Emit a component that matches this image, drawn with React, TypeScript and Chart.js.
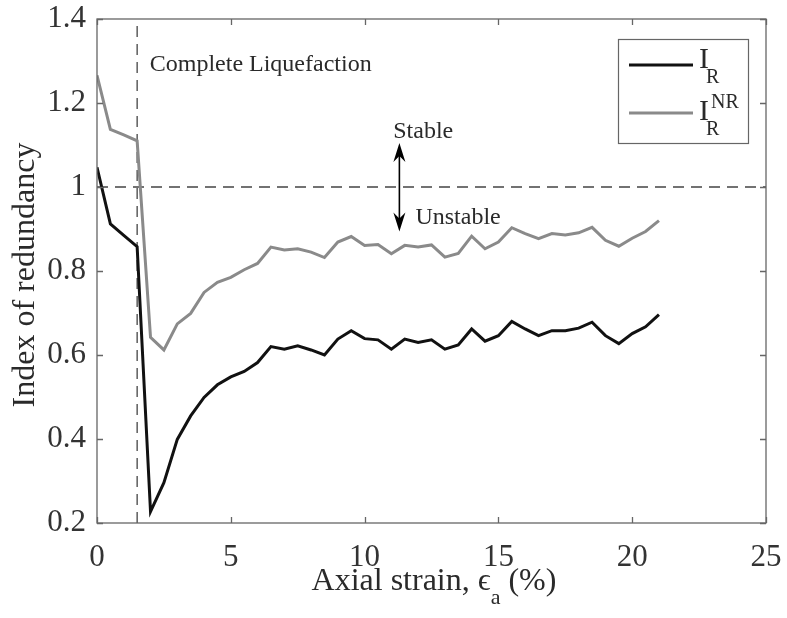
import React, { useEffect, useRef } from 'react';
import { Chart, registerables } from 'chart.js';

Chart.register(...registerables);

// ---- data ----
const strain = [0, 0.5, 1, 1.5, 2, 2.5, 3, 3.5, 4, 4.5, 5, 5.5, 6, 6.5, 7, 7.5, 8, 8.5, 9, 9.5, 10, 10.5, 11, 11.5, 12, 12.5, 13, 13.5, 14, 14.5, 15, 15.5, 16, 16.5, 17, 17.5, 18, 18.5, 19, 19.5, 20, 20.5, 21];
const indexR = [1.047, 0.912, 0.885, 0.858, 0.227, 0.296, 0.399, 0.455, 0.499, 0.529, 0.548, 0.561, 0.582, 0.620, 0.614, 0.622, 0.612, 0.600, 0.638, 0.658, 0.639, 0.636, 0.614, 0.638, 0.630, 0.636, 0.614, 0.624, 0.662, 0.633, 0.646, 0.680, 0.662, 0.646, 0.658, 0.658, 0.664, 0.678, 0.646, 0.627, 0.651, 0.667, 0.696];
const indexNR = [1.266, 1.137, 1.124, 1.110, 0.642, 0.612, 0.674, 0.699, 0.749, 0.773, 0.785, 0.803, 0.818, 0.857, 0.850, 0.853, 0.845, 0.832, 0.869, 0.882, 0.861, 0.863, 0.841, 0.861, 0.857, 0.862, 0.833, 0.842, 0.883, 0.853, 0.869, 0.903, 0.889, 0.877, 0.889, 0.886, 0.891, 0.904, 0.873, 0.859, 0.878, 0.894, 0.920];

const xTicks = [0, 5, 10, 15, 20, 25];
const xTickLabels = ['0', '5', '10', '15', '20', '25'];
const yTicks = [0.2, 0.4, 0.6, 0.8, 1.0, 1.2, 1.4];
const yTickLabels = ['0.2', '0.4', '0.6', '0.8', '1', '1.2', '1.4'];

const stabilityX = [0, 25];
const stabilityY = [1, 1];
const liquefactionX = [1.5, 1.5];
const liquefactionY = [0.2, 1.4];

// annotation anchors (data coordinates)
const liqLabel = { text: 'Complete Liquefaction', x: 1.97, y: 1.276 };
const stableLabel = { text: 'Stable', x: 11.07, y: 1.117 };
const unstableLabel = { text: 'Unstable', x: 11.9, y: 0.911 };
const arrowSpec = { x: 11.3, yTop: 1.105, yBottom: 0.894 };

const SERIF = '"Liberation Serif", "Times New Roman", serif';
const TEXT = '#2a2a2a';
const FRAME = '#666666';
const BLACK = '#111111';
const GRAY = '#8a8a8a';

const decorPlugin = {
  id: 'decor',
  afterDraw(chart: any) {
    const { ctx, chartArea: a, scales } = chart;
    const xs = scales.x;
    const ys = scales.y;
    ctx.save();
    // frame
    ctx.strokeStyle = FRAME;
    ctx.lineWidth = 1.3;
    ctx.setLineDash([]);
    ctx.strokeRect(a.left, a.top, a.right - a.left, a.bottom - a.top);
    // inward ticks on all four sides
    const tl = 6;
    ctx.beginPath();
    xTicks.forEach((v) => {
      const px = Math.round(xs.getPixelForValue(v)) + 0.5;
      ctx.moveTo(px, a.bottom);
      ctx.lineTo(px, a.bottom - tl);
      ctx.moveTo(px, a.top);
      ctx.lineTo(px, a.top + tl);
    });
    yTicks.forEach((v) => {
      const py = Math.round(ys.getPixelForValue(v)) + 0.5;
      ctx.moveTo(a.left, py);
      ctx.lineTo(a.left + tl, py);
      ctx.moveTo(a.right, py);
      ctx.lineTo(a.right - tl, py);
    });
    ctx.stroke();

    // annotations
    ctx.fillStyle = TEXT;
    ctx.textBaseline = 'alphabetic';
    ctx.textAlign = 'left';
    ctx.font = `24px ${SERIF}`;
    [liqLabel, stableLabel, unstableLabel].forEach((l) => {
      ctx.fillText(l.text, xs.getPixelForValue(l.x), ys.getPixelForValue(l.y));
    });

    // double arrow
    const ax = xs.getPixelForValue(arrowSpec.x);
    const at = ys.getPixelForValue(arrowSpec.yTop);
    const ab = ys.getPixelForValue(arrowSpec.yBottom);
    ctx.strokeStyle = '#000';
    ctx.fillStyle = '#000';
    ctx.lineWidth = 1.6;
    ctx.beginPath();
    ctx.moveTo(ax, at + 10);
    ctx.lineTo(ax, ab - 10);
    ctx.stroke();
    const head = (tipY: number, dir: number) => {
      ctx.beginPath();
      ctx.moveTo(ax, tipY);
      ctx.lineTo(ax - 6, tipY + dir * 19);
      ctx.lineTo(ax, tipY + dir * 13);
      ctx.lineTo(ax + 6, tipY + dir * 19);
      ctx.closePath();
      ctx.fill();
    };
    head(at, 1);
    head(ab, -1);

    // legend box
    const lx = a.right - 148;
    const ly = a.top + 20;
    const lw = 130;
    const lh = 104;
    ctx.fillStyle = '#fff';
    ctx.fillRect(lx, ly, lw, lh);
    ctx.strokeStyle = FRAME;
    ctx.lineWidth = 1.2;
    ctx.strokeRect(lx + 0.5, ly + 0.5, lw, lh);
    ctx.lineWidth = 3;
    ctx.strokeStyle = BLACK;
    ctx.beginPath();
    ctx.moveTo(lx + 11, ly + 26);
    ctx.lineTo(lx + 75, ly + 26);
    ctx.stroke();
    ctx.strokeStyle = GRAY;
    ctx.beginPath();
    ctx.moveTo(lx + 11, ly + 74);
    ctx.lineTo(lx + 75, ly + 74);
    ctx.stroke();
    ctx.fillStyle = TEXT;
    ctx.font = `30px ${SERIF}`;
    ctx.fillText('I', lx + 81, ly + 29);
    ctx.fillText('I', lx + 81, ly + 81);
    ctx.font = `20px ${SERIF}`;
    ctx.fillText('R', lx + 88, ly + 44);
    ctx.fillText('NR', lx + 93, ly + 69);
    ctx.fillText('R', lx + 88, ly + 96);

    // y axis title
    ctx.save();
    ctx.translate(34, (a.top + a.bottom) / 2 + 4);
    ctx.rotate(-Math.PI / 2);
    ctx.font = `32px ${SERIF}`;
    ctx.textAlign = 'center';
    ctx.fillStyle = TEXT;
    ctx.fillText('Index of redundancy', 0, 0);
    ctx.restore();

    // x axis title with subscript
    ctx.font = `32px ${SERIF}`;
    const p1 = 'Axial strain, \u03F5';
    const p3 = ' (%)';
    const w1 = ctx.measureText(p1).width;
    const w3 = ctx.measureText(p3).width;
    ctx.font = `22px ${SERIF}`;
    const w2 = ctx.measureText('a').width;
    const total = w1 + w2 + w3;
    const cx = 434;
    const base = 590;
    const x0 = cx - total / 2;
    ctx.textAlign = 'left';
    ctx.font = `32px ${SERIF}`;
    ctx.fillText(p1, x0, base);
    ctx.font = `22px ${SERIF}`;
    ctx.fillText('a', x0 + w1, base + 14);
    ctx.font = `32px ${SERIF}`;
    ctx.fillText(p3, x0 + w1 + w2, base);
    ctx.restore();
  },
};

export default function App() {
  const ref = useRef<HTMLCanvasElement>(null);
  useEffect(() => {
    if (!ref.current) return;
    const chart = new Chart(ref.current, {
      type: 'line',
      data: {
        datasets: [
          {
            label: 'I_R',
            data: strain.map((x, i) => ({ x, y: indexR[i] })),
            borderColor: BLACK,
            borderWidth: 3,
            pointRadius: 0,
            fill: false,
            tension: 0,
            order: 1,
          },
          {
            label: 'I_R^NR',
            data: strain.map((x, i) => ({ x, y: indexNR[i] })),
            borderColor: GRAY,
            borderWidth: 3,
            pointRadius: 0,
            fill: false,
            tension: 0,
            order: 2,
          },
          {
            label: 'stability',
            data: stabilityX.map((x, i) => ({ x, y: stabilityY[i] })),
            borderColor: '#444',
            borderWidth: 1.3,
            borderDash: [11, 7],
            pointRadius: 0,
            order: 3,
          },
          {
            label: 'liquefaction',
            data: liquefactionX.map((x, i) => ({ x, y: liquefactionY[i] })),
            borderColor: '#444',
            borderWidth: 1.3,
            borderDash: [11, 7],
            pointRadius: 0,
            order: 4,
          },
        ],
      },
      options: {
        responsive: false,
        animation: false,
        layout: { padding: { left: 0, top: 19, right: 21, bottom: 0 } },
        plugins: { legend: { display: false }, tooltip: { enabled: false } },
        scales: {
          x: {
            type: 'linear',
            min: 0,
            max: 25,
            grid: { display: false, drawTicks: false },
            border: { display: false },
            afterBuildTicks: (s: any) => {
              s.ticks = xTicks.map((v) => ({ value: v }));
            },
            afterFit: (s: any) => {
              s.height = 95;
              s.paddingLeft = 0;
              s.paddingRight = 0;
            },
            ticks: {
              color: '#333',
              font: { family: SERIF, size: 31 },
              padding: 16,
              maxRotation: 0,
              callback: (v: any) => xTickLabels[xTicks.indexOf(Number(v))] ?? '',
            },
          },
          y: {
            type: 'linear',
            min: 0.2,
            max: 1.4,
            grid: { display: false, drawTicks: false },
            border: { display: false },
            afterBuildTicks: (s: any) => {
              s.ticks = yTicks.map((v) => ({ value: v }));
            },
            afterFit: (s: any) => {
              s.width = 97;
              s.paddingTop = 0;
              s.paddingBottom = 0;
            },
            ticks: {
              color: '#333',
              font: { family: SERIF, size: 31 },
              padding: 11,
              callback: (v: any) => {
                const i = yTicks.findIndex((t) => Math.abs(t - Number(v)) < 1e-6);
                return i >= 0 ? yTickLabels[i] : '';
              },
            },
          },
        },
      },
      plugins: [decorPlugin],
    } as any);
    return () => chart.destroy();
  }, []);
  return (
    <div style={{ position: 'fixed', left: 0, top: 0, width: 787, height: 618, background: '#fff' }}>
      <canvas ref={ref} width={787} height={618} style={{ display: 'block' }} />
    </div>
  );
}
